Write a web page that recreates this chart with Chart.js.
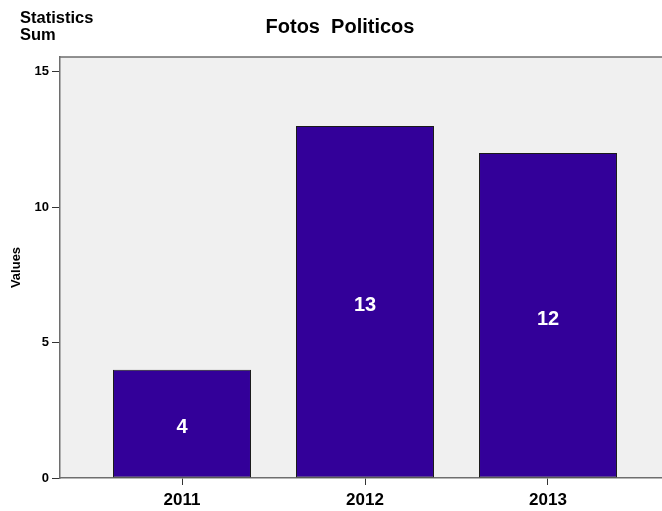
<!DOCTYPE html>
<html>
<head>
<meta charset="utf-8">
<script src="https://cdn.jsdelivr.net/npm/chart.js@4"></script>
<style>
  html, body { margin: 0; padding: 0; background: #fff; overflow: hidden; }
  #wrap { width: 680px; height: 511px; position: relative; }
</style>
</head>
<body>
<div id="wrap"><canvas id="c" width="680" height="511"></canvas></div>
<script>
// Yearly sum of political photos
const categories = ['2011', '2012', '2013'];
const values = [4, 13, 12];
const yTicks = [0, 5, 10, 15];

const FONT = '"Liberation Sans", Arial, sans-serif';
const points = categories.map((c, i) => ({ x: Number(c), y: values[i] }));

// Grey plot background plus the frame line along the top edge
const plotFrame = {
  id: 'plotFrame',
  beforeDraw(chart) {
    const { ctx, chartArea: a } = chart;
    ctx.save();
    ctx.fillStyle = '#f0f0f0';
    ctx.fillRect(a.left, a.top, a.right - a.left, a.bottom - a.top);
    ctx.restore();
  },
  afterDraw(chart) {
    const { ctx, chartArea: a } = chart;
    ctx.save();
    ctx.strokeStyle = '#6e6e6e';
    ctx.lineWidth = 1.5;
    ctx.beginPath();
    ctx.moveTo(a.left, a.top);
    ctx.lineTo(a.right, a.top);
    ctx.stroke();
    ctx.restore();
  }
};

// Value inside each bar and the header texts
const texts = {
  id: 'texts',
  afterDatasetsDraw(chart) {
    const { ctx } = chart;
    const meta = chart.getDatasetMeta(0);
    ctx.save();
    ctx.fillStyle = '#ffffff';
    ctx.font = 'bold 20px ' + FONT;
    ctx.textAlign = 'center';
    ctx.textBaseline = 'middle';
    meta.data.forEach((bar, i) => {
      ctx.fillText(String(values[i]), bar.x, (bar.y + bar.base) / 2 + 4);
    });
    ctx.fillStyle = '#000';
    ctx.font = 'bold 20px ' + FONT;
    ctx.textBaseline = 'alphabetic';
    ctx.fillText('Fotos  Politicos', 340, 33);
    ctx.textAlign = 'left';
    ctx.font = 'bold 16.5px ' + FONT;
    ctx.fillText('Statistics', 20, 23);
    ctx.fillText('Sum', 20, 40);
    ctx.restore();
  }
};

new Chart(document.getElementById('c'), {
  type: 'bar',
  data: {
    datasets: [{
      data: points,
      backgroundColor: '#330099',
      borderColor: '#1a1a1a',
      borderWidth: 1,
      borderSkipped: false,
      barPercentage: 0.754,
      categoryPercentage: 1
    }]
  },
  options: {
    responsive: false,
    animation: false,
    layout: { padding: { top: 57, right: 10, left: 0, bottom: 0 } },
    plugins: { legend: { display: false }, tooltip: { enabled: false }, title: { display: false } },
    scales: {
      x: {
        type: 'linear',
        offset: false,
        min: 2011 - 2 / 3,
        max: 2013 + 2 / 3,
        afterBuildTicks(scale) {
          scale.ticks = categories.map(c => ({ value: Number(c) }));
        },
        afterFit(scale) { scale.height = 33; },
        ticks: {
          callback: (v) => String(v),
          color: '#000',
          font: { family: FONT, size: 17, weight: 'bold' },
          padding: 5,
          maxRotation: 0
        },
        grid: { offset: false, drawOnChartArea: false, tickLength: 7, color: '#333', lineWidth: 1 },
        border: { color: '#6e6e6e', width: 1.5 }
      },
      y: {
        min: 0,
        max: 15.55,
        afterBuildTicks(scale) {
          scale.ticks = yTicks.map(v => ({ value: v }));
        },
        afterFit(scale) { scale.width = 60; },
        ticks: {
          color: '#000',
          font: { family: FONT, size: 13, weight: 'bold' },
          padding: 3
        },
        grid: { drawOnChartArea: false, tickLength: 8, color: '#333', lineWidth: 1 },
        border: { color: '#6e6e6e', width: 1.5 },
        title: {
          display: true,
          text: 'Values',
          color: '#000',
          font: { family: FONT, size: 13, weight: 'bold' },
          padding: { top: 9, bottom: 0 }
        }
      }
    }
  },
  plugins: [plotFrame, texts]
});
</script>
</body>
</html>
